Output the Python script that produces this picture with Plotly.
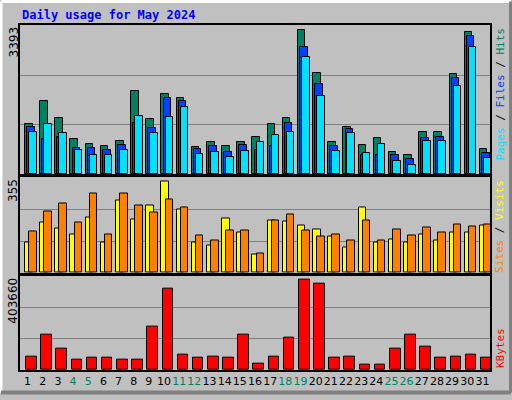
import plotly.graph_objects as go

days = list(range(1, 32))
weekends = [4, 5, 11, 12, 18, 19, 25, 26]

hits = [1153, 1665, 1287, 818, 684, 640, 751, 1911, 1264, 1844, 1755, 618, 729, 640, 729, 863,
        1153, 1287, 3293, 2312, 729, 1086, 662, 840, 506, 439, 974, 974, 2290, 3249, 573]
files = [1086, 818, 863, 595, 595, 550, 662, 1175, 1064, 1733, 1665, 573, 640, 506, 662, 550,
         640, 1175, 2914, 2067, 640, 1041, 439, 439, 439, 350, 840, 863, 2201, 3160, 484]
pages = [974, 1153, 952, 550, 439, 439, 550, 1331, 952, 1309, 1532, 461, 506, 395, 528, 729,
         908, 974, 2669, 1799, 528, 952, 484, 684, 305, 216, 751, 751, 2022, 2914, 372]
visits = [115, 189, 167, 145, 208, 115, 270, 200, 252, 340, 237, 115, 101, 204, 149, 68,
          196, 193, 178, 163, 134, 93, 244, 112, 123, 112, 145, 119, 152, 152, 178]
sites = [156, 230, 259, 189, 296, 145, 296, 252, 226, 274, 244, 141, 119, 160, 160, 71,
         196, 219, 160, 134, 145, 119, 196, 119, 163, 138, 171, 152, 182, 174, 182]
kbytes = [56000, 150000, 90000, 44000, 52000, 52000, 44000, 44000, 188000, 349000, 65000,
          52000, 56000, 52000, 150000, 27000, 56000, 137000, 387000, 370000, 52000, 56000,
          23000, 23000, 90000, 150000, 99000, 52000, 56000, 65000, 52000]

max_hits = 3393
max_visits = 355
max_kb = 403660

line = dict(color="black", width=1)
fig = go.Figure()


def bar(y, color, offset, width, xa, ya):
    fig.add_trace(go.Bar(x=days, y=y, offset=offset, width=width, marker_color=color,
                         marker_line=line, xaxis=xa, yaxis=ya, showlegend=False))


bar(hits, "#008060", -0.17, 0.5, "x", "y")
bar(files, "#0040FF", -0.03, 0.5, "x", "y")
bar(pages, "#00E0FF", 0.1, 0.5, "x", "y")
bar(visits, "#FFFF00", -0.17, 0.5, "x2", "y2")
bar(sites, "#FF8000", 0.1, 0.5, "x2", "y2")
bar(kbytes, "#FF0000", -0.1, 0.7, "x3", "y3")

ticktext = [f"<span style='color:#008060'>{d}</span>" if d in weekends else str(d) for d in days]

xcommon = dict(range=[0.5, 31.5], showline=True, mirror=True, linecolor="black", linewidth=2,
               showgrid=False, zeroline=False, ticks="")
fig.update_layout(
    width=512, height=400,
    margin=dict(l=20, r=22, t=25, b=24),
    paper_bgcolor="#C0C0C0", plot_bgcolor="#C0C0C0",
    barmode="overlay", bargap=0,
    font=dict(family="DejaVu Sans", size=11, color="black"),
    xaxis=dict(xcommon, showticklabels=False, anchor="y"),
    xaxis2=dict(xcommon, showticklabels=False, anchor="y2", matches="x"),
    xaxis3=dict(xcommon, anchor="y3", tickmode="array", tickvals=days, ticktext=ticktext,
                tickangle=0, tickfont=dict(size=11), matches="x"),
)
for name, dom, mx in [("yaxis", [0.567, 1], max_hits), ("yaxis2", [0.282, 0.558], max_visits),
                      ("yaxis3", [0, 0.2735], max_kb)]:
    fig.layout[name] = dict(domain=dom, range=[0, mx * 1.005], tickvals=[mx / 3, 2 * mx / 3],
                            showticklabels=False, gridcolor="#808080", gridwidth=1,
                            showline=True, mirror=True, linecolor="black", linewidth=2,
                            zeroline=False, ticks="")

# max labels on the left
for y, txt in [(1.0, "3393"), (0.558, "355"), (0.2735, "403660")]:
    fig.add_annotation(x=-7 / 470, y=y, xref="paper", yref="paper", text=txt, textangle=-90,
                       showarrow=False, xanchor="center", yanchor="top",
                       font=dict(family="DejaVu Sans", size=12))

mono = dict(family="DejaVu Sans Mono", size=11)
xr = 480 / 470
fig.add_annotation(x=xr, y=1.0, xref="paper", yref="paper", textangle=-90, showarrow=False,
                   xanchor="center", yanchor="top", font=mono,
                   text="<span style='color:#00E0FF'>Pages</span> / <span style='color:#0040FF'>Files</span> / <span style='color:#008060'>Hits</span>")
fig.add_annotation(x=xr, y=0.558, xref="paper", yref="paper", textangle=-90, showarrow=False,
                   xanchor="center", yanchor="top", font=mono,
                   text="<span style='color:#FF8000'>Sites</span> / <span style='color:#FFFF00'>Visits</span>")
fig.add_annotation(x=xr, y=0.0, xref="paper", yref="paper", textangle=-90, showarrow=False,
                   xanchor="center", yanchor="bottom", font=mono,
                   text="<span style='color:#FF0000'>KBytes</span>")

fig.add_annotation(x=0.0, y=1 + 10 / 351, xref="paper", yref="paper", text="<b>Daily usage for May 2024</b>",
                   showarrow=False, xanchor="left", yanchor="middle",
                   font=dict(family="DejaVu Sans Mono", size=12, color="#0000FF"))

# beveled frame
X0, X1 = -19 / 470, 491 / 470
Y0, Y1 = 1 - 374 / 351, 1 + 24 / 351
fig.add_shape(type="line", xref="paper", yref="paper", x0=X0, x1=X1, y0=Y1, y1=Y1,
              line=dict(color="white", width=3))
fig.add_shape(type="line", xref="paper", yref="paper", x0=X0, x1=X0, y0=Y0, y1=Y1,
              line=dict(color="white", width=3))
fig.add_shape(type="line", xref="paper", yref="paper", x0=X0, x1=X1, y0=Y0, y1=Y0,
              line=dict(color="#808080", width=4))
fig.add_shape(type="line", xref="paper", yref="paper", x0=X1, x1=X1, y0=Y0, y1=Y1,
              line=dict(color="#808080", width=4))

fig.write_html("out.html", config={"displayModeBar": False},
               post_script="document.body.style.margin='0';")
